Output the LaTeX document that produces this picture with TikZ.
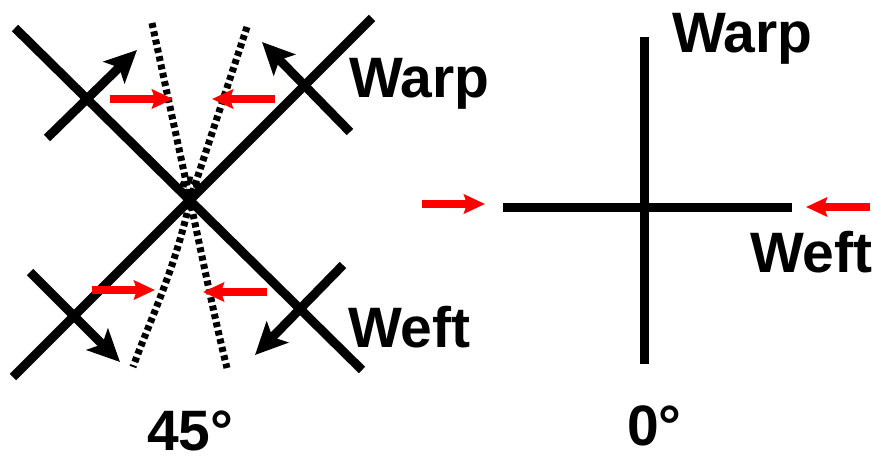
\documentclass[tikz,border=0pt]{standalone}
\usepackage{fontspec}
\setmainfont{Liberation Sans}
\usetikzlibrary{arrows.meta}
\definecolor{redarrow}{RGB}{255,0,0}
\tikzset{
  thread/.style={line width=9pt,black},
  blackarrow/.style={line width=9pt,black,-{Stealth[length=32pt,width=30pt,inset=7pt]}},
  redarr/.style={line width=7.5pt,redarrow,-{Stealth[length=21pt,width=19pt,inset=3pt]}},
  dotline/.style={line width=7pt,black,dash pattern=on 5pt off 3.5pt},
  lab/.style={font=\fontsize{57}{60}\selectfont\bfseries,anchor=base west,inner sep=0pt}
}
\begin{document}
\begin{tikzpicture}[x=1pt,y=-1pt]
\useasboundingbox (0,0) rectangle (877,457);
% ---- 45 degree part ----
\coordinate (a1) at (15,28);  \coordinate (a2) at (362,370);
\coordinate (b1) at (372,18); \coordinate (b2) at (13,377);
\draw[thread] (a1) -- (a2);
\draw[thread] (b1) -- (b2);
% short crossing threads with arrows
\coordinate (tl1) at (47,138);  \coordinate (tl2) at (137,50);
\coordinate (tr1) at (350,132); \coordinate (tr2) at (262,42);
\coordinate (bl1) at (30,272);  \coordinate (bl2) at (120,362);
\coordinate (br1) at (343,265); \coordinate (br2) at (255,355);
\draw[blackarrow] (tl1) -- (tl2);
\draw[blackarrow] (tr1) -- (tr2);
\draw[blackarrow] (bl1) -- (bl2);
\draw[blackarrow] (br1) -- (br2);
% dotted deformed lines
\coordinate (d1) at (152,23);  \coordinate (d2) at (227,368);
\coordinate (d3) at (247,27);  \coordinate (d4) at (133,367);
\coordinate (dc) at (190,200);
\draw[dotline] (d1) -- (dc) .. controls (205,270) and (215,320) .. (d2);
\draw[dotline] (d3) -- (dc) .. controls (175,270) and (150,320) .. (d4);
\draw[dotline] (190,187) circle (7pt);
% red arrows
\coordinate (r1s) at (110,99);  \coordinate (r1e) at (173,99);
\coordinate (r2s) at (275,99);  \coordinate (r2e) at (212,99);
\coordinate (r3s) at (92,290);  \coordinate (r3e) at (155,290);
\coordinate (r4s) at (267,292); \coordinate (r4e) at (203,292);
\draw[redarr] (r1s) -- (r1e);
\draw[redarr] (r2s) -- (r2e);
\draw[redarr] (r3s) -- (r3e);
\draw[redarr] (r4s) -- (r4e);
\node[lab] (warpL) at (349,98) {Warp};
\node[lab] (weftL) at (348,347) {Weft};
\node[lab] (deg45) at (147,450) {45°};
% ---- 0 degree part ----
\coordinate (v1) at (644,37);  \coordinate (v2) at (644,364);
\coordinate (h1) at (503,207); \coordinate (h2) at (792,207);
\draw[thread] (v1) -- (v2);
\draw[thread] (h1) -- (h2);
\coordinate (r5s) at (422,204); \coordinate (r5e) at (485,204);
\coordinate (r6s) at (870,207); \coordinate (r6e) at (806,207);
\draw[redarr] (r5s) -- (r5e);
\draw[redarr] (r6s) -- (r6e);
\node[lab] (warpR) at (672,53) {Warp};
\node[lab] (weftR) at (750,272) {Weft};
\node[lab] (deg0) at (627,445) {0°};
\end{tikzpicture}
\end{document}
